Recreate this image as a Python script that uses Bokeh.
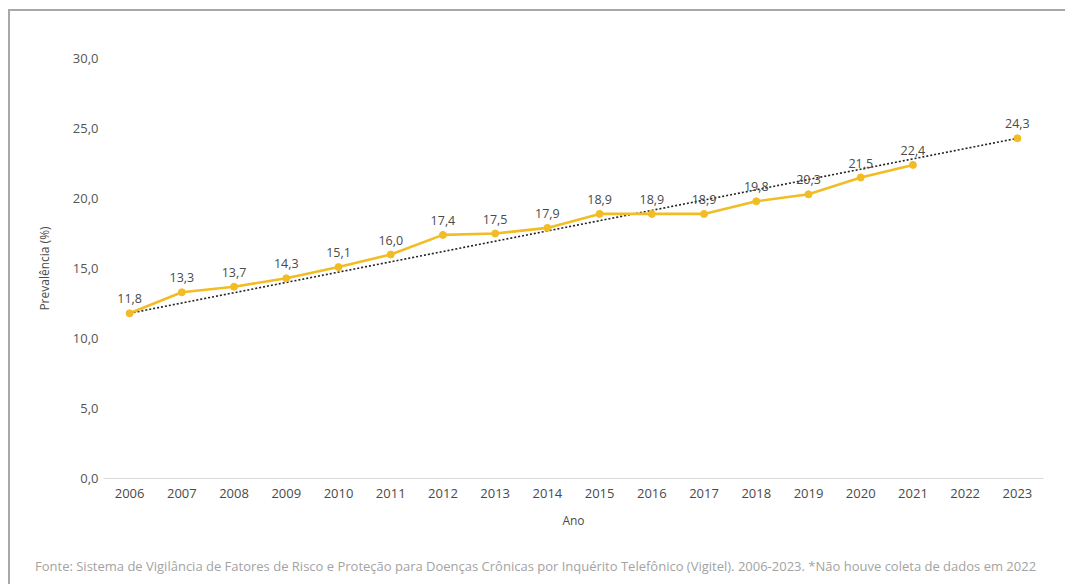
from bokeh.plotting import figure
from bokeh.layouts import column
from bokeh.models import ColumnDataSource, FixedTicker, LabelSet, Div
from bokeh.core.properties import value
from bokeh.embed import file_html
from bokeh.resources import INLINE
import numpy as np

# Prevalence by survey year (no data collected in 2022)
years = ["2006", "2007", "2008", "2009", "2010", "2011", "2012", "2013", "2014",
         "2015", "2016", "2017", "2018", "2019", "2020", "2021", "2022", "2023"]
prevalence = [11.8, 13.3, 13.7, 14.3, 15.1, 16.0, 17.4, 17.5, 17.9,
              18.9, 18.9, 18.9, 19.8, 20.3, 21.5, 22.4, None, 24.3]
y_ticks = [0, 5, 10, 15, 20, 25, 30]
source_note = ("Fonte: Sistema de Vigilância de Fatores de Risco e Proteção para "
               "Doenças Crônicas por Inquérito Telefônico (Vigitel). 2006-2023. "
               "*Não houve coleta de dados em 2022")

FONT = "Open Sans"
GOLD = "#F2BC25"
TXT = "#4a4a4a"


def br(v):
    return f"{v:.1f}".replace(".", ",")


vals = [np.nan if v is None else v for v in prevalence]
src = ColumnDataSource(dict(x=years, y=vals))
pts = [(x, v) for x, v in zip(years, prevalence) if v is not None]
pt_src = ColumnDataSource(dict(x=[q[0] for q in pts], y=[q[1] for q in pts],
                               t=[br(q[1]) for q in pts]))

# Trend drawn between the first and the last surveyed year
trend_src = ColumnDataSource(dict(x=[pts[0][0], pts[-1][0]],
                                  y=[pts[0][1], pts[-1][1]]))

p = figure(width=1055, height=540, x_range=years, y_range=(0, 30),
           output_backend="svg", toolbar_location=None,
           min_border_left=93, min_border_right=22,
           min_border_top=47, min_border_bottom=73)
p.outline_line_color = None
p.grid.grid_line_color = None

p.line("x", "y", source=trend_src, line_color="#222222", line_width=1.6,
       line_dash="2 2")
p.line("x", "y", source=src, line_color=GOLD, line_width=2.6)
p.scatter("x", "y", source=pt_src, size=7, color=GOLD)
p.add_layout(LabelSet(x="x", y="y", text="t", source=pt_src, y_offset=10,
                      text_align="center", text_font=value(FONT),
                      text_font_size=value("12.5px"), text_color=TXT))

yax = p.yaxis[0]
yax.ticker = FixedTicker(ticks=y_ticks)
yax.major_label_overrides = {t: br(t) for t in y_ticks}
yax.axis_line_color = None
yax.major_tick_out = 0
yax.major_tick_in = 0
yax.minor_tick_out = 0
yax.minor_tick_in = 0
yax.major_label_text_font = FONT
yax.major_label_text_font_size = "13px"
yax.major_label_text_color = "#555555"
yax.major_label_standoff = 5
yax.axis_label = "Prevalência (%)"
yax.axis_label_text_font = FONT
yax.axis_label_text_font_style = "normal"
yax.axis_label_text_font_size = "12px"
yax.axis_label_text_color = TXT
yax.axis_label_standoff = 17

xax = p.xaxis[0]
xax.axis_line_color = "#d9d9d9"
xax.axis_line_width = 1
xax.major_tick_out = 0
xax.major_tick_in = 0
xax.minor_tick_out = 0
xax.minor_tick_in = 0
xax.major_label_text_font = FONT
xax.major_label_text_font_size = "13px"
xax.major_label_text_color = TXT
xax.major_label_standoff = 10
xax.axis_label = "Ano"
xax.axis_label_text_font = FONT
xax.axis_label_text_font_style = "normal"
xax.axis_label_text_font_size = "12px"
xax.axis_label_text_color = TXT
xax.axis_label_standoff = 11

note = Div(text=source_note, width=1020, height=28,
           styles={"font-family": FONT, "font-size": "13px", "color": "#a3a3a3",
                   "white-space": "nowrap", "line-height": "16px",
                   "padding-top": "2px", "margin-left": "25px",
                   "overflow": "hidden"})

# Framed panel: only the left and top edges fall inside the page
root = column(p, note, spacing=0,
              styles={"border-left": "2px solid #a8a8a8",
                      "border-top": "2px solid #a8a8a8",
                      "margin-left": "8px", "margin-top": "9px",
                      "overflow": "hidden"})

open("out.html", "w").write(file_html(root, INLINE))
